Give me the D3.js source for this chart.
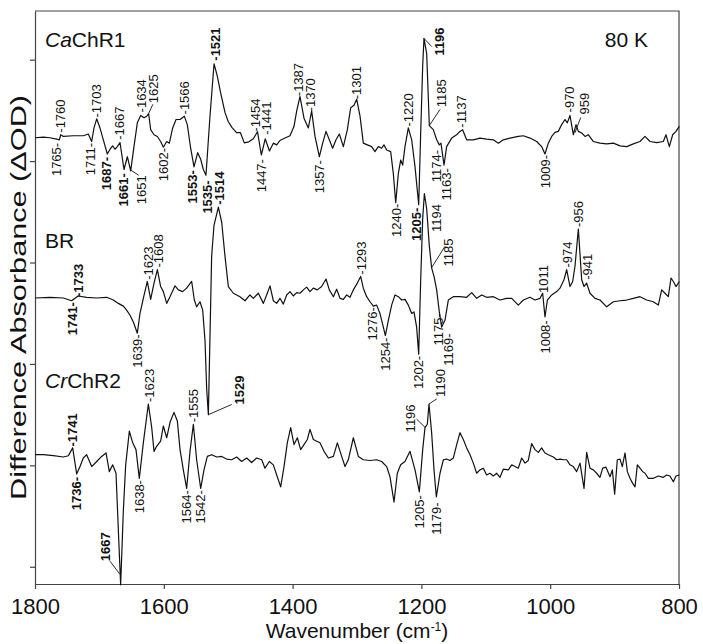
<!DOCTYPE html>
<html>
<head>
<meta charset="utf-8">
<script src="https://cdn.jsdelivr.net/npm/d3@7"></script>
<style>
  html, body { margin: 0; padding: 0; background: #fff; }
  svg { display: block; font-family: "Liberation Sans", Arial, sans-serif; }
  .trace { fill: none; stroke: #111; stroke-width: 1.2; stroke-linejoin: round; }
  .peak { font-size: 13px; fill: #111; }
  .peak.bold { font-weight: bold; }
  .leader { stroke: #111; stroke-width: 0.9; }
  .axis path, .axis line, .frame { stroke: #444; stroke-width: 1.2; fill: none; }
  .axis text { font-size: 22px; fill: #111; font-family: "Liberation Sans", Arial, sans-serif; }
  .title { font-size: 21px; fill: #111; }
  .name { font-size: 21px; fill: #111; }
</style>
</head>
<body>
<svg id="chart" width="703" height="644"></svg>
<script>
/* ── Axis ticks ─────────────────────────────────────────── */
const xTicks = [1800, 1600, 1400, 1200, 1000, 800];
const yTicks = [0, 100, 200, 300, 400, 500];

/* ── Series: vertical offsets of each difference spectrum ─ */
const seriesNames = ['CaChR1', 'BR', 'CrChR2'];
const seriesOffsets = [423, 265, 109.5];

/* ── Spectra: [wavenumber, ΔA relative to offset] ───────── */
const caChR1 = [
  [1800,0],[1787,0.7],[1776.7,0],[1766.4,-1.3],[1762.2,-2],[1760.1,3],[1756,1.3],[1740.5,2],[1725,2],
  [1717.2,3.7],[1712,-3.7],[1708.4,9.7],[1704.2,18.7],[1699.1,9.7],[1693.9,-2],[1687.7,-16],[1683.5,-11.3],
  [1679.4,-8],[1675.8,-11.3],[1672.2,-8.7],[1668,-4.7],[1661.8,-31.3],[1656.6,-18.7],[1651.4,-32.7],
  [1646.3,-8.7],[1641.1,14.7],[1635.9,22],[1630.7,19.7],[1626.6,21.3],[1623.5,23.7],[1620.4,8],[1615.2,3],
  [1610,1.3],[1604.9,-3.7],[1600.7,-9.3],[1595.5,-3.7],[1591.4,-5.3],[1586.2,9.7],[1581,18],[1574.8,18],
  [1568.1,21.3],[1563.5,13],[1558.3,-10.3],[1553.1,-28.7],[1547.4,-14.7],[1542.7,-21.3],[1538.6,-31.3],
  [1534.5,-37],[1528.3,21.3],[1522,73],[1516.9,60.7],[1512,45],[1505,25],[1500,16],[1494,10],[1487,5],
  [1481,5],[1475,-5],[1468,-4],[1461,-1],[1454.5,6],[1448.5,-17],[1442.5,-1],[1436,-13],[1429.9,-5.3],
  [1424.7,-7],[1419.6,-2.7],[1411.8,-0.3],[1404,2],[1397.8,11.3],[1393.7,26.3],[1388.5,40.7],[1382.3,19.3],
  [1375.6,9.7],[1370.4,26.3],[1365.2,1.3],[1358.5,-18.7],[1353.3,-5.3],[1348.1,6.3],[1343,-2],[1337.8,-10.3],
  [1332.6,-2],[1327.4,3.7],[1321.2,-8.7],[1315,8],[1309.8,29.7],[1304.7,32],[1300.5,38],[1295.3,21.3],
  [1290.2,-5.3],[1283.9,-7],[1277.2,-8.7],[1272.1,-13.7],[1266.9,-8.7],[1261.7,-10.3],[1258.1,-7],
  [1253.9,-12],[1247.7,-13.7],[1243.6,-35.3],[1239.9,-64],[1235.8,-35.3],[1232.2,-22],[1229.1,-27],
  [1225.5,-8.7],[1220.3,9.7],[1215.1,-2],[1209.9,-28.7],[1204.2,-66],[1201.1,4.7],[1198,71],[1196,98],
  [1191.8,83],[1187.7,12],[1181.5,8],[1176.3,-2],[1172.2,-7],[1169.6,-5.3],[1164.9,-27],[1160.8,-8.7],
  [1153,-0.3],[1145.2,3],[1140.1,6.3],[1136,8],[1129.7,-2],[1119.4,-2],[1109,-0.3],[1098.7,-1.3],
  [1088.3,-2],[1080.5,-5.3],[1072.8,-2],[1062.4,-0.3],[1049.5,1.3],[1041.7,2],[1031.4,-0.3],[1021,-3.7],
  [1013.3,-8.7],[1008.1,-16],[1002.9,-5.3],[997.7,1.3],[992.5,5.3],[987.4,6.3],[982.2,13],[977,18],
  [973.4,14.7],[969.3,22],[964.1,3],[959.9,13],[956.3,6.3],[951.1,4.7],[945.9,1.3],[940.8,3],[933,-3.7],
  [922.7,-5.3],[912.3,-6],[901.9,-5.3],[891.6,-8],[881.3,-8.7],[870.9,-6],[860.6,-3.7],[852.8,1.3],
  [845,-3.7],[834.7,-4.7],[824.3,-3.7],[820.2,3],[815,-8.7],[809.8,3],[804.7,6.3],[799.5,11.3]
];

const br = [
  [1800,0],[1776.7,0.7],[1756,0],[1743.1,-2.7],[1733.2,2],[1719.8,0.7],[1704.2,0],[1688.7,0.7],[1678.4,-2],
  [1670.6,-5.3],[1662.8,-8],[1657.7,-12],[1652.5,-17],[1647.3,-23.7],[1641.1,-34.7],[1637,-15.3],
  [1631.8,-0.3],[1625.6,16.3],[1620.4,-1.3],[1615.2,14.7],[1610,28],[1604.9,11.3],[1600.7,6.3],
  [1595.5,-5.3],[1590.4,1.3],[1582.6,12],[1577.4,8],[1570.7,6.3],[1564.5,9.7],[1556.7,16.3],[1552.6,-2],
  [1549,-8.7],[1543.8,-3.7],[1539.6,-12],[1536,-42],[1533.4,-90],[1530.8,-115],[1525.7,41.3],[1522.1,71.3],
  [1515.3,89.7],[1510.1,74.7],[1505,41.3],[1499.8,11.3],[1492,4.7],[1481.7,1.3],[1473.9,-2.7],[1466.2,3],
  [1461,-0.3],[1453.2,4.7],[1445.4,-5.3],[1440.3,3],[1435.1,12],[1429.9,-2.7],[1424.7,-5.3],[1419.6,-0.3],
  [1414.4,-6],[1409.2,3],[1404,6.3],[1398.9,2],[1393.7,5.3],[1388.5,4.7],[1383.3,8],[1378.2,10.7],
  [1373,6.3],[1367.8,9.7],[1361.6,8],[1354.9,11.3],[1348.1,18.7],[1343,8],[1336.7,1.3],[1331.6,8.7],
  [1326.4,-0.3],[1321.2,-1.3],[1316,3],[1310.9,0.7],[1305.7,8],[1299.5,14.7],[1294.3,21.3],[1290.2,9.7],
  [1285,1.3],[1279.8,-3.7],[1274.6,-8],[1269.5,-7],[1264.3,-15.3],[1259.1,-28.7],[1256,-37],[1251.3,-22],
  [1246.2,-7],[1241,3],[1235.8,1.3],[1230.6,-2],[1225.5,-1.3],[1220.3,-7],[1215.1,-15.3],[1211.5,-13.7],
  [1207.4,-28.7],[1204.2,-55.3],[1201.1,18],[1198,78],[1195.4,103],[1191.8,88],[1187.7,51.3],[1184.1,29.7],
  [1180.4,21.3],[1176.3,8],[1172.2,-13.7],[1168.5,-28.7],[1163.4,-22],[1158.2,-2],[1150.4,1.3],[1140.1,1.3],
  [1129.7,0.7],[1121.9,5.3],[1114.2,-0.3],[1106.4,3],[1098.7,0.7],[1088.3,1.3],[1078,-2],[1067.6,-0.3],
  [1059.8,-0.3],[1049.5,-7],[1041.7,-2],[1031.4,0.7],[1023.6,-2],[1015.8,-0.3],[1011.7,4.7],[1008.1,-18.7],
  [1004.4,-2],[997.7,3],[990,6.3],[984.8,9.7],[978.6,18],[974.4,28],[969.3,11.3],[965.1,16.3],[961.5,31.3],
  [956.3,68],[951.1,18],[947.5,11.3],[943.4,14.7],[938.2,4.7],[930.4,-0.3],[922.7,-2],[912.3,-8.7],
  [901.9,-3.7],[891.6,-2.7],[881.3,-2],[870.9,-0.3],[860.6,1.3],[850.2,-2],[839.9,-3.7],[832.1,-7],
  [826.9,8],[821.7,4.7],[816.6,1.3],[812.4,19.7],[808.8,16.3],[804.7,11.3],[799.5,16.3]
];

const crChR2 = [
  [1800,1],[1787,1],[1771.5,0],[1756,-1.3],[1748.2,0],[1741.5,7.7],[1735.3,-18],[1730.1,-10.7],[1725,-2.3],
  [1719.8,1],[1712,-10.7],[1704.2,-5.7],[1696.5,-0.7],[1689.7,2.7],[1684.6,-15.7],[1679.4,-9],[1674.2,-17.3],
  [1670.1,-80.7],[1667,-127.3],[1662.8,-54],[1659.2,-9],[1653.5,24.3],[1648.3,12.7],[1643.2,6],[1638,-22.3],
  [1631.8,12.7],[1624,51],[1618.8,28],[1615.2,4.3],[1611.1,9.3],[1604.9,14.3],[1600.7,29.3],[1595.5,17.7],
  [1590.4,32.7],[1584.2,42.7],[1579,34.3],[1574.8,6],[1569.7,-14],[1564.5,-32.3],[1559.3,4.3],[1554.1,31],
  [1549,-4],[1542.7,-32.3],[1537.6,-14],[1532.4,-0.7],[1525.7,1],[1517.9,-1.3],[1510.1,-0.7],[1502.4,-3.3],
  [1494.6,-4],[1486.9,-1.3],[1479.1,-5.7],[1471.3,-2.3],[1463.6,-6.7],[1455.8,-2.3],[1448,-4],[1442.9,-12.3],
  [1436.1,-5.7],[1429.9,-9],[1424.7,-19],[1418.5,-30.7],[1413.3,-10.7],[1408.2,12.7],[1403,27.7],[1397.8,11],
  [1392.6,17.7],[1387.5,6],[1382.3,11],[1377.1,16],[1373,26],[1367.8,16],[1362.6,14.3],[1357.5,12.7],
  [1351.2,4.3],[1344.5,-2.3],[1336.7,-0.7],[1330.5,12.7],[1323.8,-0.7],[1318.6,-10.7],[1313.5,-4],
  [1305.7,17.7],[1297.9,-0.7],[1290.2,-4],[1279.8,-4.7],[1269.5,-4],[1261.7,-5.7],[1253.9,-10.7],
  [1248.8,-20.7],[1242.5,-45.7],[1237.4,-17.3],[1232.2,-9],[1225.5,-5.7],[1217.7,4.3],[1209.9,-14],
  [1203.2,-35.7],[1198,6],[1194.4,27.7],[1190.8,31],[1188.2,51],[1184.1,22.7],[1180.4,-14],[1176.8,-40.7],
  [1171.1,-17.3],[1165.9,-4],[1160.8,-3.3],[1155.6,-4.7],[1150.4,-2.3],[1145.2,11],[1140.1,22.7],
  [1134.9,16],[1129.7,7.7],[1124.5,1],[1119.4,-7.3],[1114.2,-17.3],[1109,-14],[1103.8,-12.3],[1098.7,-19],
  [1093.5,-17.3],[1088.3,-20],[1083.1,-17.3],[1078,-21.3],[1072.8,-13.3],[1065,-14],[1059.8,-9],
  [1054.7,-10.7],[1049.5,-12.3],[1044.3,-2.3],[1039.1,-7.3],[1034,-4.7],[1028.8,12],[1023.6,6],[1018.4,3.3],
  [1013.3,7.7],[1008.1,2.7],[1002.9,1],[995.1,-1.3],[990,-4],[984.8,-3.3],[979.6,-4],[974.4,-4],[969.3,-9],
  [964.1,-10.7],[958.9,-15.7],[953.7,-7.3],[947.5,-32.3],[943.4,3.3],[938.2,-12.3],[933,-14],[927.9,-17.3],
  [922.7,-21.3],[918.5,-12.3],[913.4,-11.3],[907.1,-20.7],[903.5,-14],[899.9,-38],[895.8,-4],[891.6,-3.3],
  [888,-10.7],[883.8,2.7],[880.2,-15.7],[876.1,-22.3],[871.9,-27.3],[868.3,-30.7],[864.7,-9],[860.6,-12.3],
  [856.4,-15.7],[852.8,-17.3],[847.6,-22.3],[839.8,-22.3],[832.1,-20],[824.3,-21.3],[819.1,-19],[814,-20],
  [808.8,-25.7],[804.7,-20],[799.5,-19]
];

/* ── Peak labels: [text, wavenumber, anchor, dir, bold, leader] ── */
const caLabels = [
  ['1765-', 1767, -5, 'down'], ['-1760', 1760, 5, 'up'], ['1711-', 1714.6, -5, 'down'],
  ['-1703', 1704.2, 20, 'up'], ['1687-', 1688.7, -19, 'down', 1], ['-1667', 1669.1, -2, 'up'],
  ['1661-', 1662.9, -35, 'down', 1], ['1651', 1634.3, -37, 'down', 0, [1651, -32, 1639, -37]],
  ['-1634', 1635.4, 25, 'up'], ['1625', 1615.5, 34, 'up', 0, [1623.5, 24, 1617, 33]],
  ['1602-', 1600.8, -10, 'down'], ['-1566', 1568.2, 23, 'up'], ['1553-', 1555.1, -32, 'down', 1],
  ['1535-', 1532.9, -42, 'down', 1], ['-1521', 1520.5, 76, 'up', 1], ['-1454', 1457.3, 6, 'up'],
  ['1447-', 1448, -21, 'down'], ['-1441', 1441.3, 3, 'up'], ['-1387', 1391.1, 41, 'up'],
  ['-1370', 1373, 26, 'up'], ['1357-', 1358.5, -22, 'down'], ['-1301', 1300.5, 38, 'up'],
  ['1240-', 1239.4, -65, 'down'], ['-1220', 1220.3, 11, 'up'], ['1205-', 1207.3, -69, 'down', 1],
  ['1196', 1172.7, 81, 'up', 1, [1196, 98, 1184, 90]], ['1185', 1168.5, 30, 'up', 0, [1187.7, 12, 1171, 28]],
  ['1174-', 1176.2, -12, 'down'], ['1163-', 1160.7, -30, 'down'], ['-1137', 1137.4, 10, 'up'],
  ['1009-', 1008.1, -17, 'down'], ['-970', 970.3, 25, 'up'],
  ['959', 947.5, 23, 'up', 0, [961.5, 5, 952.6, 20]]
];

const brLabels = [
  ['1741-', 1741.5, -4, 'down', 1], ['-1733', 1732.8, 1, 'up', 1], ['1639-', 1641.2, -36, 'down'],
  ['-1623', 1624.1, 18, 'up'], ['-1608', 1608.5, 30, 'up'], ['-1514', 1514.3, 92, 'up', 1],
  ['1529', 1482.9, -105, 'up', 1, [1530.8, -115, 1494.6, -105]], ['-1293', 1292.7, 23, 'up'],
  ['1276-', 1275.6, -9, 'down'], ['1254-', 1256, -39, 'down'], ['1202-', 1204.2, -57, 'down'],
  ['1194', 1176.2, 65, 'up'], ['1185', 1158.2, 31, 'up', 0, [1184, 30, 1163.4, 51]],
  ['1175-', 1174.2, -15, 'down'], ['1169-', 1158.2, -35, 'down'], ['1011', 1010.8, 5, 'up'],
  ['1008-', 1008.1, -22, 'down'], ['-974', 973.5, 30, 'up'], ['-956', 956.4, 70, 'up'],
  ['-941', 941.8, 18, 'up']
];

const crLabels = [
  ['-1741', 1741.5, 9, 'up', 1], ['1736-', 1736.3, -21, 'down', 1],
  ['1667', 1691.3, -104, 'up', 1, [1668, -117, 1683.5, -104]], ['1638-', 1638, -24, 'down'],
  ['-1623', 1622.5, 53, 'up'], ['-1555', 1554.2, 33, 'up'], ['1564-', 1565.5, -34, 'down'],
  ['1542-', 1542.7, -34, 'down'], ['1205-', 1203.3, -39, 'down'], ['1179-', 1176.2, -46, 'down'],
  ['1196', 1217.7, 23, 'up', 0, [1194.4, 28, 1207.3, 36]],
  ['1190', 1171.1, 58, 'up', 0, [1188.2, 51, 1176.2, 56]]
];

const spectra = [caChR1, br, crChR2];
const labelSets = [caLabels, brLabels, crLabels];

/* ── Layout ─────────────────────────────────────────────── */
const margin = { top: 11, right: 24, bottom: 60, left: 35 };
const width = 703, height = 644;

const svg = d3.select('#chart');

const x = d3.scaleLinear().domain([1800, 800]).range([margin.left, width - margin.right]);
const y = d3.scaleLinear().domain([-17, 548]).range([height - margin.bottom, margin.top]);

/* ── Axes & frame ───────────────────────────────────────── */
svg.append('g')
  .attr('class', 'axis')
  .attr('transform', `translate(0,${y(-17)})`)
  .call(d3.axisBottom(x).tickValues(xTicks).tickFormat(d3.format('d'))
    .tickSize(5).tickPadding(9).tickSizeOuter(0));

svg.append('g')
  .attr('class', 'axis')
  .attr('transform', `translate(${x(1800)},0)`)
  .call(d3.axisLeft(y).tickValues(yTicks).tickFormat('').tickSize(5).tickSizeOuter(0));

svg.append('path')
  .attr('class', 'frame')
  .attr('d', `M${x(1800)},${y(548)}H${x(800)}V${y(-17)}`);

/* ── Spectra ────────────────────────────────────────────── */
spectra.forEach((data, i) => {
  const line = d3.line()
    .x(d => x(d[0]))
    .y(d => y(seriesOffsets[i] + d[1]));
  svg.append('path')
    .datum(data)
    .attr('class', 'trace')
    .attr('d', line);
});

/* ── Peak labels ────────────────────────────────────────── */
labelSets.forEach((labels, i) => {
  const off = seriesOffsets[i];
  const g = svg.append('g');
  labels.forEach(([txt, wn, v, dir, bold, leader]) => {
    if (leader) {
      g.append('line')
        .attr('class', 'leader')
        .attr('x1', x(leader[0])).attr('y1', y(off + leader[1]))
        .attr('x2', x(leader[2])).attr('y2', y(off + leader[3]));
    }
    g.append('text')
      .attr('class', bold ? 'peak bold' : 'peak')
      .attr('transform', `translate(${x(wn)},${y(off + v)}) rotate(-90)`)
      .attr('text-anchor', dir === 'up' ? 'start' : 'end')
      .attr('dy', '0.35em')
      .text(txt);
  });
});

/* ── Series names ───────────────────────────────────────── */
const nameY = [47, 248, 388];
seriesNames.forEach((name, i) => {
  const t = svg.append('text').attr('class', 'name').attr('x', 45).attr('y', nameY[i]);
  if (name.startsWith('Ca') || name.startsWith('Cr')) {
    t.append('tspan').style('font-style', 'italic').text(name.slice(0, 2));
    t.append('tspan').text(name.slice(2));
  } else {
    t.text(name);
  }
});

svg.append('text')
  .attr('class', 'name')
  .attr('x', 648).attr('y', 47)
  .attr('text-anchor', 'end')
  .text('80 K');

/* ── Axis titles ────────────────────────────────────────── */
const xt = svg.append('text')
  .attr('class', 'title')
  .attr('x', (x(1800) + x(800)) / 2)
  .attr('y', 638)
  .attr('text-anchor', 'middle');
xt.append('tspan').text('Wavenumber (cm');
xt.append('tspan').attr('dy', -7).style('font-size', '12px').text('-1');
xt.append('tspan').attr('dy', 7).text(')');

// The y title is drawn stretched along its length, as in the source figure
svg.append('text')
  .attr('class', 'title')
  .style('font-size', '22px')
  .attr('transform', `translate(26,${(y(-17) + y(548)) / 2}) rotate(-90)`)
  .attr('text-anchor', 'middle')
  .attr('textLength', 405)
  .attr('lengthAdjust', 'spacingAndGlyphs')
  .text('Difference Absorbance (ΔOD)');
</script>
</body>
</html>
